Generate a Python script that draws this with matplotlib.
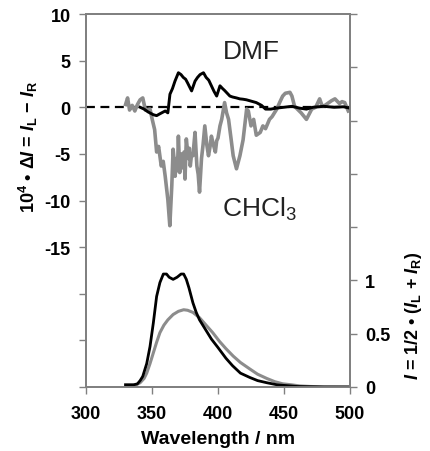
import matplotlib
matplotlib.use("Agg")
import matplotlib.pyplot as plt

plt.rcParams['font.family'] = ['Liberation Sans', 'DejaVu Sans']
plt.rcParams['mathtext.fontset'] = 'custom'
plt.rcParams['mathtext.rm'] = 'Liberation Sans:bold'
plt.rcParams['mathtext.it'] = 'Liberation Sans:italic:bold'
plt.rcParams['mathtext.bf'] = 'Liberation Sans:bold'

# ---- CD data (left axis) ----
dmf_cd_wl = [341, 344, 347, 351, 353.5, 356, 360, 362, 363.6, 365.5, 367.4, 370, 372, 373.7, 375.5, 377,
             380, 382.6, 384.5, 386.4, 389, 391, 393, 395, 397, 399, 401.5, 403.5, 405, 407, 409, 411,
             414, 416.5, 419, 421.5, 424, 426.5, 429, 431, 433, 436, 440, 444, 450, 456, 462, 467,
             472, 480, 488, 495, 500]
dmf_cd = [0.0, -0.2, -0.5, -0.8, -0.9, -0.7, -0.4, -0.6, 1.4, 2.0, 2.8, 3.7, 3.5, 3.2, 3.0, 2.6,
          1.75, 2.8, 3.2, 3.5, 3.7, 3.2, 2.9, 2.3, 1.7, 1.2, 2.3, 2.0, 1.8, 1.5, 1.2, 1.1,
          1.0, 0.9, 0.86, 0.8, 0.7, 0.6, 0.5, 0.35, 0.2, -0.2, -0.2, -0.1, 0.0, 0.1, -0.1, -0.2,
          0.0, 0.1, 0.0, 0.05, -0.1]

chcl3_cd_wl = [330, 331.5, 333, 335, 337, 339, 341, 343, 345, 348.5, 350, 352, 353.5, 355, 357, 358.5, 360,
               362, 363.5, 365, 366, 367, 367.5, 368.5, 369.3, 370, 371, 372.5, 373.5, 374.3, 375, 376,
               377.5, 378.3, 379, 380, 381, 382.6, 383.3, 384, 385, 386, 387.5, 388.7, 390, 391.5, 392.8,
               394, 395, 396.5, 398, 399, 400, 401.5, 402.8, 405, 406.5, 408, 410, 411.5, 414,
               416.6, 419, 421.7, 423, 425, 427, 429, 432, 434, 436, 439, 441, 444.5, 447, 449, 451,
               454.5, 456, 458, 463, 467, 471, 474, 477, 479, 481, 484, 486, 488.6, 492, 494, 496, 498.7]
chcl3_cd = [0.3, 1.0, -0.3, 0.2, -0.4, 0.3, 0.8, 1.0, -0.3, -0.2, -1.2, -2.4, -4.8, -4.2, -6.3, -5.8, -7.4,
            -9.9, -12.7, -8.4, -4.5, -6.0, -7.4, -5.5, -6.8, -3.1, -7.0, -5.0, -6.5, -4.8, -7.7, -3.4,
            -5.5, -4.4, -6.3, -5.0, -5.2, -2.7, -4.5, -6.3, -7.2, -9.1, -5.5, -4.0, -2.0, -4.0, -5.2,
            -4.2, -3.1, -4.0, -4.8, -3.6, -3.3, -2.0, -1.3, 0.5, -0.6, -1.3, -3.5, -5.2, -6.6,
            -5.2, -3.5, -0.2, -0.4, -2.0, -1.3, -3.0, -2.7, -2.0, -2.3, -1.3, -1.0, -0.2, 0.6, 1.2, 1.5,
            1.6, 1.2, 0.1, -0.6, -1.3, -0.2, 0.0, 0.9, 0.1, 0.2, 0.5, 0.7, 0.9, 0.4, 0.6, 0.5, -0.4]

# ---- Emission data (right axis) ----
dmf_em_wl = [330, 336, 339, 341, 343, 346, 348.5, 351, 353.5, 356, 358.6, 361, 363, 366, 369, 372, 374,
             376, 378, 381, 383.5, 386, 390, 395, 400, 406, 411, 417, 424, 430, 437, 445, 460, 480, 500]
dmf_em = [0.02, 0.02, 0.03, 0.06, 0.1, 0.22, 0.38, 0.6, 0.85, 0.98, 1.06, 1.06, 1.03, 1.01, 1.03, 1.06, 1.06,
          1.01, 0.93, 0.79, 0.7, 0.63, 0.55, 0.45, 0.37, 0.27, 0.2, 0.13, 0.09, 0.06, 0.04, 0.02, 0.005, 0.0, 0.0]

chcl3_em_wl = [330, 338, 341, 344, 346, 348.5, 351, 353.5, 356, 359, 362, 366, 370, 374, 377, 381, 386,
               391, 396, 401, 406, 411.5, 417, 424, 430, 437, 443, 449, 456, 462, 470, 480, 500]
chcl3_em = [0.02, 0.02, 0.04, 0.08, 0.13, 0.22, 0.32, 0.42, 0.51, 0.58, 0.63, 0.68, 0.71, 0.725, 0.72, 0.7, 0.65,
            0.58, 0.51, 0.43, 0.36, 0.29, 0.23, 0.17, 0.12, 0.08, 0.05, 0.03, 0.02, 0.01, 0.005, 0.002, 0.0]

left_ticks = [-30, -25, -20, -15, -10, -5, 0, 5, 10]
left_labels = ['', '', '', '-15', '-10', '-5', '0', '5', '10']
right_ticks = [0, 0.5, 1, 1.5, 2, 2.5, 3, 3.5]
right_labels = ['0', '0.5', '1', '', '', '', '', '']
x_ticks = [300, 350, 400, 450, 500]

GRAY = '#8c8c8c'
SPINE = '#808080'

fig = plt.figure(figsize=(4.30, 4.52), dpi=100)
ax = fig.add_axes([86 / 430, 1 - 388 / 452, (350 - 86) / 430, (388 - 15) / 452])
ax2 = ax.twinx()

ax.axhline(0, color='black', lw=1.6, ls=(0, (4, 2.5)), zorder=1)
ax.plot(chcl3_cd_wl, chcl3_cd, color=GRAY, lw=2.6, zorder=2)
ax.plot(dmf_cd_wl, dmf_cd, color='black', lw=2.1, zorder=3)

ax2.plot(chcl3_em_wl, chcl3_em, color=GRAY, lw=2.2)
ax2.plot(dmf_em_wl, dmf_em, color='black', lw=2.0)

ax.set_xlim(300, 500)
ax.set_ylim(-30, 10)
ax2.set_ylim(0, 3.5)

ax.set_xticks(x_ticks)
ax.set_xticklabels([str(v) for v in x_ticks])
ax.set_yticks(left_ticks)
ax.set_yticklabels(left_labels)
ax2.set_yticks(right_ticks)
ax2.set_yticklabels(right_labels)

for a in (ax, ax2):
    for s in a.spines.values():
        s.set_color(SPINE)
        s.set_linewidth(1.3)
    a.tick_params(colors=SPINE, labelcolor='black', labelsize=13, length=5, width=1.0, pad=6)
    for lab in a.get_xticklabels() + a.get_yticklabels():
        lab.set_fontweight('bold')
ax.tick_params(axis='x', pad=8)

ax.set_xlabel('Wavelength / nm', fontsize=14, fontweight='bold', labelpad=6)

fig.text(28 / 430, 1 - 147 / 452, r'10$^4$ • Δ$I$ = $I_\mathregular{L}$ − $I_\mathregular{R}$',
         rotation=90, ha='center', va='center', fontsize=13, fontweight='bold')
fig.text(414 / 430, 1 - 316 / 452, r'$I$ = 1/2 • ($I_\mathregular{L}$ + $I_\mathregular{R}$)',
         rotation=90, ha='center', va='center', fontsize=13, fontweight='bold')

ax.text(425.5, 6.0, 'DMF', fontsize=19, color='#222222', ha='center', va='center')
ax.text(431, -10.8, r'CHCl$_\mathregular{3}$', fontsize=19, color='#222222', ha='center', va='center')

fig.savefig('out.png', dpi=100)
